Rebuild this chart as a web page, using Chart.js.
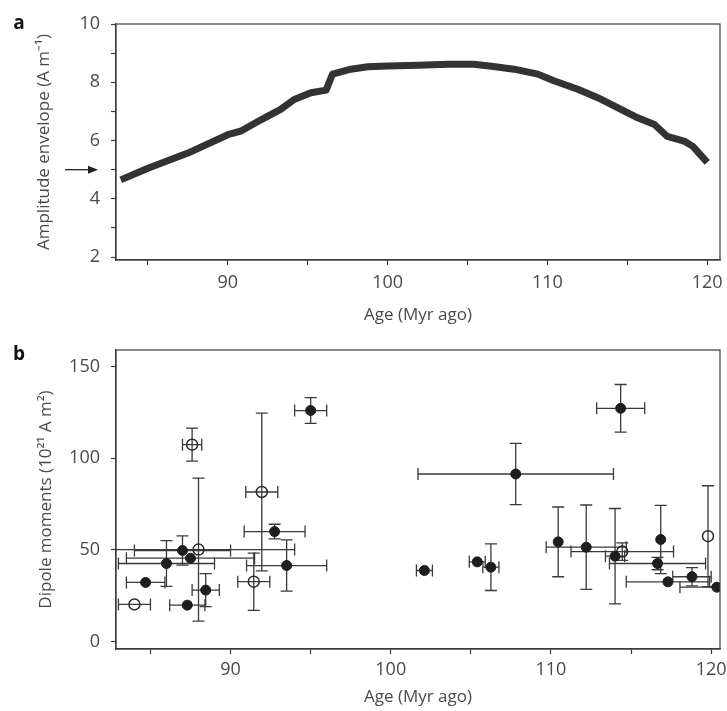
<!DOCTYPE html>
<html>
<head>
<meta charset="utf-8">
<script src="https://cdn.jsdelivr.net/npm/chart.js@4/dist/chart.umd.min.js"></script>
<style>
body { margin: 0; background: #fff; }
#wrap { position: relative; width: 727px; height: 711px; }
.panel { position: absolute; left: 0; width: 727px; }
</style>
</head>
<body>
<div id="wrap">
  <div class="panel" style="top:0;height:340px"><canvas id="chart_a"></canvas></div>
  <div class="panel" style="top:340px;height:371px"><canvas id="chart_b"></canvas></div>
</div>
<script>
// panel a - amplitude envelope vs age
let envAge = [83.3, 85, 87.5, 90, 90.8, 92.1, 93.3, 94.15, 95.2, 96.15, 96.55, 97.7, 98.75, 100,
              101.9, 103.8, 105.4, 106.5, 107.9, 109.4, 110.4, 111.9, 113.15, 114.6, 115.65,
              116.7, 117.5, 118.6, 119.1, 120.0];
let envValue = [4.65, 5.05, 5.57, 6.2, 6.32, 6.72, 7.07, 7.41, 7.64, 7.73, 8.28, 8.45, 8.53, 8.56,
                8.58, 8.62, 8.62, 8.55, 8.45, 8.28, 8.05, 7.76, 7.47, 7.07, 6.78,
                6.55, 6.14, 5.97, 5.80, 5.25];
let arrowValue = 5;

// panel b - dipole moments, filled symbols
let filledAge = [95.0, 92.75, 87.0, 87.5, 86.0, 93.5, 84.7, 88.45, 87.3, 107.8, 102.1, 105.4, 106.25,
                 114.35, 110.45, 112.2, 114.0, 116.85, 116.65, 117.3, 118.8, 120.35];
let filledMoment = [126, 60, 49.7, 45.5, 42.6, 41.5, 32.3, 28.1, 19.9, 91.4, 38.8, 43.5, 40.6,
                    127.2, 54.4, 51.5, 46.6, 55.7, 42.6, 32.6, 35.4, 29.7];
let filledAgeErr = [1.0, 1.9, 3.0, 4.0, 3.0, 2.5, 1.2, 0.85, 1.1, 6.1, 0.5, 0.5, 0.5,
                    1.5, 0.3, 2.5, 0.6, 0.3, 3.0, 2.6, 1.2, 2.3];
let filledMomentErr = [7, 4, 8, 3, 12.5, 14, 2, 9, 2.5, 16.7, 1.5, 2, 12.7,
                       13, 19, 23, 26, 18.6, 3.4, 3, 5, 3];

// panel b - open symbols
let openAge = [87.6, 91.95, 88.0, 91.45, 84.0, 114.45, 119.8];
let openMoment = [107.4, 81.6, 50.2, 32.7, 20.3, 49.1, 57.5];
let openAgeErr = [0.6, 1.0, 6.0, 1.0, 1.0, 3.2, 0.3];
let openMomentErr = [9, 43, 39, 15.6, 1.5, 4.8, 27.5];

let ageTicks = [85, 90, 95, 100, 105, 110, 115, 120];
let ageLabels = [90, 100, 110, 120];
let envTicks = [2, 3, 4, 5, 6, 7, 8, 9, 10];
let envLabels = [2, 4, 6, 8, 10];
let momentTicks = [0, 50, 100, 150];

let ink = "#3a3a3a";
let textColor = "#4a4a4a";
let fontFamily = "'Open Sans', sans-serif";
let tickFont = {family: fontFamily, size: 18};
let titleFont = {family: fontFamily, size: 17};

function setTicks(values) {
    return function(scale) { scale.ticks = values.map(v => ({value: v})); };
}
function labelOnly(shown) {
    return function(value) { return shown.includes(value) ? String(value) : ""; };
}
function points(xs, ys) {
    return xs.map((x, i) => ({x: x, y: ys[i]}));
}

// box around plot area + panel letter
let framePlugin = {
    id: "frame",
    afterDraw(chart, args, opts) {
        let ctx = chart.ctx, a = chart.chartArea;
        ctx.save();
        ctx.strokeStyle = ink;
        ctx.lineWidth = 1.2;
        ctx.strokeRect(a.left, a.top, a.right - a.left, a.bottom - a.top);
        ctx.fillStyle = "#111";
        ctx.font = "bold 19px " + fontFamily;
        ctx.textAlign = "center";
        ctx.textBaseline = "middle";
        ctx.fillText(opts.letter, 19, opts.letterY);
        ctx.restore();
    }
};

let arrowPlugin = {
    id: "arrow",
    afterDraw(chart) {
        let ctx = chart.ctx;
        let y = chart.scales.y.getPixelForValue(arrowValue);
        let x1 = chart.chartArea.left - 51, x2 = chart.chartArea.left - 18;
        ctx.save();
        ctx.strokeStyle = "#222";
        ctx.fillStyle = "#222";
        ctx.lineWidth = 1.3;
        ctx.beginPath();
        ctx.moveTo(x1, y);
        ctx.lineTo(x2 - 6, y);
        ctx.stroke();
        ctx.beginPath();
        ctx.moveTo(x2, y);
        ctx.lineTo(x2 - 10, y - 4);
        ctx.lineTo(x2 - 10, y + 4);
        ctx.closePath();
        ctx.fill();
        ctx.restore();
    }
};

let errorBarPlugin = {
    id: "errorBars",
    beforeDatasetsDraw(chart) {
        let ctx = chart.ctx, xs = chart.scales.x, ys = chart.scales.y, a = chart.chartArea;
        let cap = 6;
        ctx.save();
        ctx.beginPath();
        ctx.rect(a.left, a.top, a.right - a.left, a.bottom - a.top);
        ctx.clip();
        ctx.strokeStyle = ink;
        ctx.lineWidth = 1.3;
        chart.data.datasets.forEach(ds => {
            ds.data.forEach((p, i) => {
                let cx = xs.getPixelForValue(p.x), cy = ys.getPixelForValue(p.y);
                let xl = xs.getPixelForValue(p.x - ds.errX[i]);
                let xr = xs.getPixelForValue(p.x + ds.errX[i]);
                let yt = ys.getPixelForValue(p.y + ds.errY[i]);
                let yb = ys.getPixelForValue(p.y - ds.errY[i]);
                ctx.beginPath();
                if (cx - xl > 6) {
                    ctx.moveTo(xl, cy); ctx.lineTo(xr, cy);
                    ctx.moveTo(xl, cy - cap); ctx.lineTo(xl, cy + cap);
                    ctx.moveTo(xr, cy - cap); ctx.lineTo(xr, cy + cap);
                }
                if (yb - cy > 6) {
                    ctx.moveTo(cx, yt); ctx.lineTo(cx, yb);
                    ctx.moveTo(cx - cap, yt); ctx.lineTo(cx + cap, yt);
                    ctx.moveTo(cx - cap, yb); ctx.lineTo(cx + cap, yb);
                }
                ctx.stroke();
            });
        });
        ctx.restore();
    }
};

function xAxis(min, max, height, labelPad, titlePad) {
    return {
        type: "linear", min: min, max: max,
        afterBuildTicks: setTicks(ageTicks),
        afterFit(scale) { scale.height = height; scale.paddingLeft = 0; scale.paddingRight = 0; },
        border: {color: ink, width: 1.2},
        grid: {drawOnChartArea: false, tickLength: 5, tickColor: ink, tickWidth: 1.2},
        ticks: {callback: labelOnly(ageLabels), font: tickFont, color: textColor,
                padding: labelPad, maxRotation: 0, autoSkip: false},
        title: {display: true, text: "Age (Myr ago)", font: titleFont, color: textColor,
                padding: {top: 0, bottom: titlePad}}
    };
}

function yAxis(min, max, tickList, shown, title, titlePad) {
    return {
        type: "linear", min: min, max: max,
        afterBuildTicks: setTicks(tickList),
        afterFit(scale) { scale.width = 116; scale.paddingTop = 0; scale.paddingBottom = 0; },
        border: {color: ink, width: 1.2},
        grid: {drawOnChartArea: false, tickLength: 5, tickColor: ink, tickWidth: 1.2},
        ticks: {callback: labelOnly(shown), font: tickFont, color: textColor, padding: 11, autoSkip: false},
        title: {display: true, text: title, font: titleFont, color: textColor,
                padding: {top: titlePad, bottom: 0}}
    };
}

let baseOptions = {
    responsive: true,
    maintainAspectRatio: false,
    animation: false,
    events: [],
};

new Chart(document.getElementById("chart_a").getContext("2d"), {
    type: "line",
    data: {
        datasets: [{
            data: points(envAge, envValue),
            borderColor: "#333",
            borderWidth: 7,
            borderJoinStyle: "round",
            pointRadius: 0,
            fill: false,
            tension: 0,
        }]
    },
    options: Object.assign({}, baseOptions, {
        layout: {padding: {top: 24, right: 7, left: 0, bottom: 0}},
        plugins: {
            legend: {display: false},
            tooltip: {enabled: false},
            frame: {letter: "a", letterY: 24},
        },
        scales: {
            x: xAxis(83, 120.8, 80, 7, 15),
            y: yAxis(1.9, 10, envTicks, envLabels, "Amplitude envelope (A m\u207B\u00B9)", 34),
        }
    }),
    plugins: [framePlugin, arrowPlugin],
});

new Chart(document.getElementById("chart_b").getContext("2d"), {
    type: "scatter",
    data: {
        datasets: [
            {
                data: points(filledAge, filledMoment),
                errX: filledAgeErr,
                errY: filledMomentErr,
                pointRadius: 5,
                pointBackgroundColor: "#1e1e1e",
                pointBorderColor: "#1e1e1e",
                pointBorderWidth: 1,
            },
            {
                data: points(openAge, openMoment),
                errX: openAgeErr,
                errY: openMomentErr,
                pointRadius: 5.5,
                pointBackgroundColor: "rgba(255,255,255,0)",
                pointBorderColor: "#2a2a2a",
                pointBorderWidth: 1.5,
            }
        ]
    },
    options: Object.assign({}, baseOptions, {
        layout: {padding: {top: 10, right: 6.3, left: 0, bottom: 0}},
        plugins: {
            legend: {display: false},
            tooltip: {enabled: false},
            frame: {letter: "b", letterY: 15},
        },
        scales: {
            x: xAxis(82.85, 120.55, 62, 5, 4),
            y: yAxis(-4, 159, momentTicks, momentTicks, "Dipole moments (10\u00B2\u00B9 A m\u00B2)", 36),
        }
    }),
    plugins: [errorBarPlugin, framePlugin],
});
</script>
</body>
</html>
